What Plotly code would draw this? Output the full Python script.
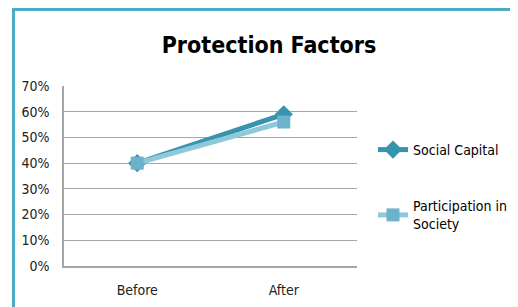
import plotly.graph_objects as go

categories = ["Before", "After"]
social_capital = [0.40, 0.59]
participation = [0.40, 0.56]
tick_vals = [0, 0.1, 0.2, 0.3, 0.4, 0.5, 0.6, 0.7]
tick_text = ["0%", "10%", "20%", "30%", "40%", "50%", "60%", "70%"]

# page body has an 8px default margin; work in figure coordinates
OFF = 8
W, H = 518 - OFF, 307 - OFF
PL, PR, PT, PB = 64 - OFF, 357 - OFF, 86 - OFF, 266 - OFF
L, R, T, B = PL, W - PR, PT, H - PB
pw, ph = PR - PL, PB - PT

FONT = "DejaVu Sans Condensed, Liberation Sans Narrow, sans-serif"

fig = go.Figure()
fig.add_trace(go.Scatter(
    x=categories, y=social_capital, name="Social Capital", mode="lines+markers",
    line=dict(color="#3694AE", width=5),
    marker=dict(symbol="diamond", size=14, color="#3694AE"),
    legendgroup="a",
))
fig.add_trace(go.Scatter(
    x=categories, y=participation, name="Participation in<br>Society", mode="lines+markers",
    line=dict(color="#8FC8DA", width=5),
    marker=dict(symbol="square", size=13, color="#6BB2CA"),
    legendgroup="b",
))

def px_x(p):
    return (p - OFF - L) / pw

def px_y(p):
    return 1 - (p - OFF - T) / ph

fig.add_shape(type="rect", xref="paper", yref="paper",
              x0=px_x(13.5), x1=px_x(560), y0=px_y(340), y1=px_y(9.5),
              line=dict(color="#4BACC6", width=3), layer="above")

fig.update_layout(
    width=W, height=H,
    margin=dict(l=L, r=R, t=T, b=B, autoexpand=False),
    paper_bgcolor="white", plot_bgcolor="white",
    title=dict(text="<b>Protection Factors</b>", x=(269 - OFF) / W, xanchor="center",
               y=1 - (45 - OFF) / H, yanchor="middle",
               font=dict(family=FONT, size=23, color="black")),
    font=dict(family=FONT, size=14, color="#222"),
    showlegend=True,
    legend=dict(x=px_x(373), xanchor="left", y=px_y(134), yanchor="top",
                tracegroupgap=35, font=dict(size=14, family=FONT, color="black"),
                bgcolor="rgba(0,0,0,0)"),
    xaxis=dict(type="category", range=[-0.5, 1.5], showgrid=False,
               showline=True, linecolor="#A6A6A6", linewidth=1.5,
               automargin=False,
               ticks="", ticklabelstandoff=10, tickfont=dict(size=14, color="#222")),
    yaxis=dict(range=[0, 0.7], tickvals=tick_vals, ticktext=tick_text,
               showgrid=True, gridcolor="#A6A6A6", gridwidth=1,
               showline=True, linecolor="#A6A6A6", linewidth=1.5,
               automargin=False,
               zeroline=False, ticks="", ticklabelstandoff=10,
               tickfont=dict(size=14, color="#222")),
)

fig.write_html("out.html")
